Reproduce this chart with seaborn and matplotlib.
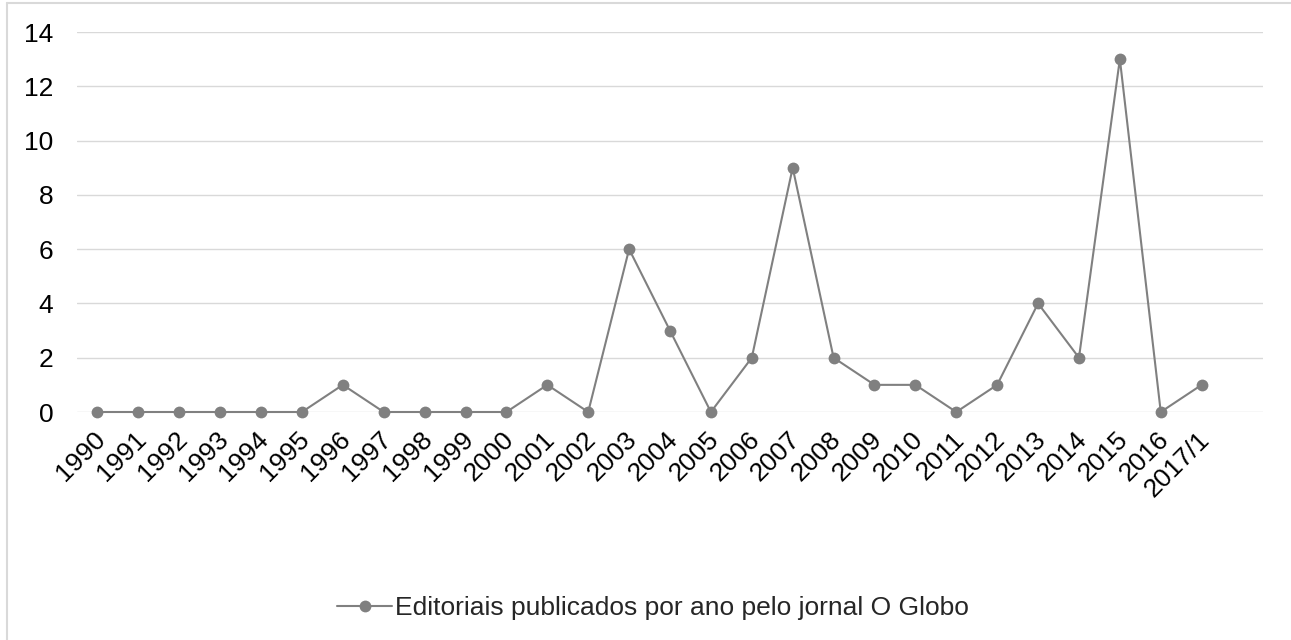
import matplotlib
matplotlib.use("Agg")
import matplotlib.pyplot as plt
import matplotlib.transforms as mtransforms
from matplotlib.lines import Line2D
import seaborn as sns
import pandas as pd

years = ["1990", "1991", "1992", "1993", "1994", "1995", "1996", "1997", "1998",
         "1999", "2000", "2001", "2002", "2003", "2004", "2005", "2006", "2007",
         "2008", "2009", "2010", "2011", "2012", "2013", "2014", "2015", "2016",
         "2017/1"]
editoriais = [0, 0, 0, 0, 0, 0, 1, 0, 0, 0, 0, 1, 0, 6, 3, 0, 2, 9, 2, 1, 1, 0,
              1, 4, 2, 13, 0, 1]
serie = "Editoriais publicados por ano pelo jornal O Globo"

df = pd.DataFrame({"pos": range(len(years)), "valor": editoriais})

sns.set_theme(style="white")
plt.rcParams["font.family"] = ["Liberation Sans", "DejaVu Sans"]

fig = plt.figure(figsize=(12.91, 6.4), dpi=100)
ax = fig.add_axes([77 / 1291, 1 - 412 / 640, (1263 - 77) / 1291, (412 - 32) / 640])

cor = "#808080"
sns.lineplot(data=df, x="pos", y="valor", ax=ax, color=cor, linewidth=1.5,
             marker="o", markersize=8.5, markeredgewidth=0, label=serie,
             legend=False)
for ln in ax.lines:
    ln.set_clip_on(False)

ax.set_xlim(-0.5, 28.5)
ax.set_ylim(0, 14)
ax.set_yticks(range(0, 15, 2))
ax.set_xticks(range(len(years)))
ax.set_xticklabels(years, rotation=45, ha="right", va="center",
                   rotation_mode="anchor")
ax.tick_params(axis="both", labelsize=19, colors="black", length=0)
ax.tick_params(axis="y", pad=17)
ax.tick_params(axis="x", pad=17)
# nudge the rotated year labels slightly to the right
nudge = mtransforms.ScaledTranslation(4 / 100, 0, fig.dpi_scale_trans)
for lbl in ax.get_xticklabels():
    lbl.set_transform(lbl.get_transform() + nudge)
ax.grid(axis="y", color="#d9d9d9", linewidth=1)
ax.set_axisbelow(True)
for s in ax.spines.values():
    s.set_visible(False)
ax.set_xlabel("")
ax.set_ylabel("")

handles, labels = ax.get_legend_handles_labels()
fig.legend(handles, labels, loc="center", bbox_to_anchor=(653 / 1291, 1 - 608 / 640),
           frameon=False, fontsize=19, handlelength=2.1, handletextpad=0.1)

# light frame on the top and left edges of the chart area
fy = 1 - 2.5 / 640
fx = 6.5 / 1291
fig.add_artist(Line2D([fx, 1], [fy, fy], transform=fig.transFigure,
                      color="#d9d9d9", linewidth=1.5))
fig.add_artist(Line2D([fx, fx], [0, fy], transform=fig.transFigure,
                      color="#d9d9d9", linewidth=1.5))

fig.savefig("out.png", dpi=100)
